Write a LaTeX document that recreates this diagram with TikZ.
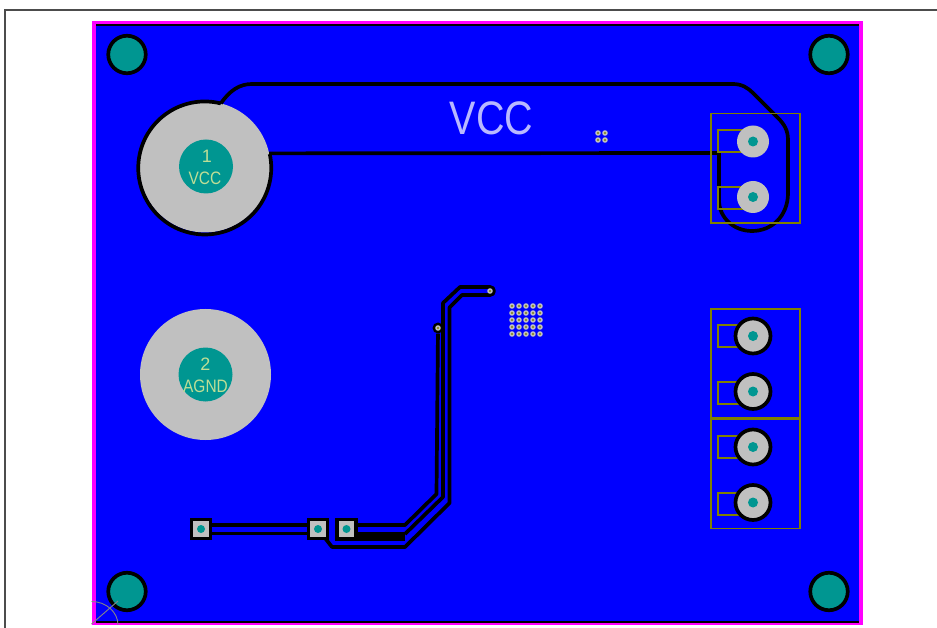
\documentclass[tikz,border=0pt]{standalone}
\usepackage{fontspec}
\setmainfont{Liberation Sans}
\usetikzlibrary{positioning}

\definecolor{copper}{RGB}{0,0,255}
\definecolor{outline}{RGB}{255,0,255}
\definecolor{drill}{RGB}{0,150,145}
\definecolor{land}{RGB}{192,192,192}
\definecolor{silk}{RGB}{128,128,0}
\definecolor{legend}{RGB}{190,222,150}

\tikzset{
    trace/.style={draw=black, line width=3.7pt, line join=round},
    silkbox/.style={draw=silk, line width=1.6pt},
    hole/.style={circle, draw=black, fill=drill, line width=3.7pt, minimum size=37.5pt, inner sep=0pt, outer sep=0pt},
    bigland/.style={circle, fill=land, minimum size=131pt, inner sep=0pt, outer sep=0pt},
    bigdrill/.style={circle, fill=drill, minimum size=54pt, inner sep=0pt},
    pinland/.style={circle, fill=land, minimum size=32pt, inner sep=0pt, outer sep=0pt},
    ringland/.style={circle, draw=black, fill=land, line width=3.7pt, minimum size=35pt, inner sep=0pt, outer sep=0pt},
    pindrill/.style={circle, fill=drill, minimum size=10pt, inner sep=0pt},
    smd/.style={rectangle, draw=black, fill=land, line width=3.7pt, minimum size=19pt, inner sep=0pt, outer sep=0pt},
    smddrill/.style={circle, fill=drill, minimum size=8pt, inner sep=0pt},
    via/.style={circle, fill=land, minimum size=5.6pt, inner sep=0pt},
    viacore/.style={circle, fill=silk, minimum size=2.4pt, inner sep=0pt},
    padtext/.style={text=legend, font=\fontsize{18}{18}\selectfont, inner sep=0pt}
}

\begin{document}
\begin{tikzpicture}[x=1pt, y=-1pt, node distance=55.5pt]
    \useasboundingbox (0,0) rectangle (937,628);
    \fill[white] (0,0) rectangle (937,628);
    \draw[black!70, line width=1.2pt] (5,628) -- (5,10) -- (937,10);

    % board
    \fill[outline] (92,21) rectangle (863,625);
    \fill[copper] (96,24) rectangle (859,622);
    \draw[black, line width=2.5pt] (96,25) -- (859,25);
    \draw[black, line width=1.5pt] (96,622) -- (859,622);

    % mounting holes
    \node[hole] (hole1) at (127,54.5) {};
    \node[hole] (hole2) at (829,54.5) {};
    \node[hole] (hole3) at (127,591.5) {};
    \node[hole] (hole4) at (829,591.5) {};

    % terminals
    \node[bigland] (pad1) at (205,167) {};
    \node[bigland] (pad2) at (205.5,374.5) {};
    \draw[trace] (pad1.76) arc[start angle=76, end angle=372, radius=66.5pt];
    \node[bigdrill] (drill1) at (206,166.5) {};
    \node[bigdrill] (drill2) at (205.5,374.5) {};
    \node[padtext] (num1) at (207,156.5) {1};
    \node[padtext] (name1) at (205,178.5) {\scalebox{.86}[1]{VCC}};
    \node[padtext] (num2) at (205.5,364) {2};
    \node[padtext] (name2) at (205.5,386) {\scalebox{.86}[1]{AGND}};

    % copper outline
    \draw[trace] (pad1.76) .. controls (230,90) and (240,84) .. (252,84) -- (733,84)
        .. controls (742,84) and (748,88) .. (753,93) -- (778,118)
        .. controls (784,124) and (788,130) .. (788,140) -- (788,193)
        .. controls (788,216) and (772,231) .. (752,231)
        .. controls (734,231) and (719,218) .. (719,200) -- (719,153) -- (pad1.12);
    \node[text=blue!28!white, font=\fontsize{47}{47}\selectfont, inner sep=0pt] (netname) at (491.5,118) {\scalebox{.84}[1]{VCC}};

    % connector bodies
    \draw[silkbox] (711,113.5) rectangle (800,223);
    \draw[silkbox] (711,309) rectangle (800,418);
    \draw[silkbox] (711,419.5) rectangle (800,528.5);
    \foreach \ytop in {130,187,325,382,436,493}
        \draw[silkbox] (745,\ytop) -- (718,\ytop) -- (718,\ytop+22) -- (745,\ytop+22);

    \node[pinland] (pin1) at (753,141.5) {};
    \node[pinland] (pin2) [below of=pin1] {};
    \node[ringland] (pin3) at (753,336) {};
    \node[ringland] (pin4) [below of=pin3] {};
    \node[ringland] (pin5) at (753,447) {};
    \node[ringland] (pin6) [below of=pin5] {};
    \foreach \pinid in {1,...,6}
        \node[pindrill] (core\pinid) at (pin\pinid) {};

    % signal traces
    \node[circle, fill=black, minimum size=11pt, inner sep=0pt] (viaring) at (438,328) {};
    \coordinate (viaend) at (490,291);
    \fill[black] (335,532) rectangle (405,541);
    \draw[trace] (201,525) -- (318,525);
    \draw[trace] (201,533.5) -- (318,533.5);
    \draw[trace] (347,525) -- (405,525) -- (436.5,494) -- (viaring);
    \draw[trace] (405,534) -- (443,497) -- (443,303) -- (460,287) -- (490,287)
        arc[start angle=90, end angle=-90, radius=4pt] -- (462,295) -- (449.5,307.5)
        -- (449.5,503) -- (405,547) -- (332,547) -- (325,538);

    \node[smd] (smd1) at (201,529) {};
    \node[smd] (smd2) at (318,529) {};
    \node[smd] (smd3) at (346.5,529) {};
    \node[smddrill] (smdcore1) at (smd1) {};
    \node[smddrill] (smdcore2) at (smd2) {};
    \node[smddrill] (smdcore3) at (smd3) {};

    \node[via] (via1) at (viaend) {};
    \node[viacore] (via1core) at (viaend) {};
    \node[via] (via2) at (viaring) {};
    \node[viacore] (via2core) at (viaring) {};

    % stitching vias
    \foreach \vx in {512,519,526,533,540}
        \foreach \vy in {306,313,320,327,334} {
            \node[via] at (\vx,\vy) {};
            \node[viacore] at (\vx,\vy) {};
        }
    \foreach \vx in {598,605}
        \foreach \vy in {133,140} {
            \node[via] at (\vx,\vy) {};
            \node[viacore] at (\vx,\vy) {};
        }

    % origin mark
    \coordinate (origin) at (91.5,624);
    \coordinate (markend) at (118,601);
    \draw[land!70!black, line width=.9pt] (origin) -- (markend);
    \draw[land!70!black, line width=.9pt] (91.5,601.5) .. controls (106,601.5) and (118,612) .. (118,625);
\end{tikzpicture}
\end{document}
